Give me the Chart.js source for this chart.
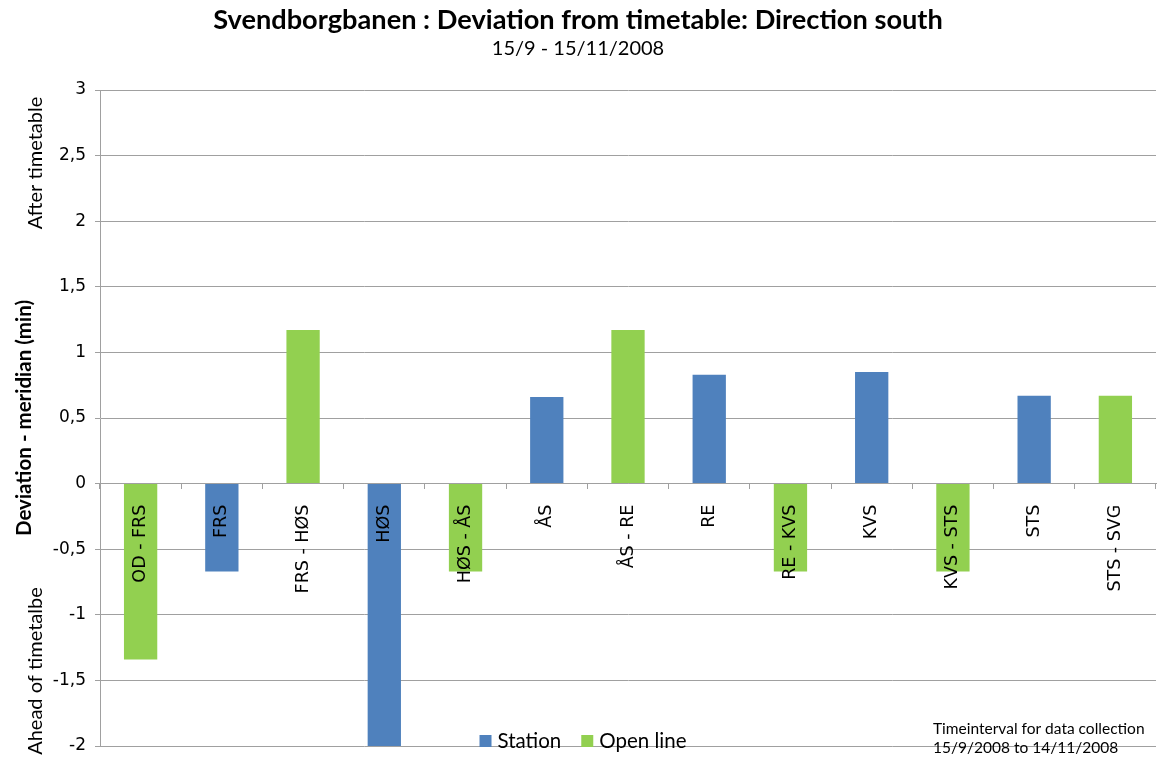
<!DOCTYPE html>
<html>
<head>
<meta charset="utf-8">
<script src="https://cdn.jsdelivr.net/npm/chart.js@4/dist/chart.umd.min.js"></script>
<style>
  html, body { margin: 0; padding: 0; background: #fff; }
  #wrap { width: 1166px; height: 763px; position: relative; }
</style>
</head>
<body>
<div id="wrap"><canvas id="c" width="1166" height="763"></canvas></div>
<script>
const categories = ["OD - FRS", "FRS", "FRS - HØS", "HØS", "HØS - ÅS", "ÅS", "ÅS - RE", "RE", "RE - KVS", "KVS", "KVS - STS", "STS", "STS - SVG"];
const stationValues = [null, -0.67, null, -2.0, null, 0.66, null, 0.83, null, 0.85, null, 0.67, null];
const openLineValues = [-1.34, null, 1.17, null, -0.67, null, 1.17, null, -0.67, null, -0.67, null, 0.67];
const seriesNames = ["Station", "Open line"];
const seriesColors = ["#4F81BD", "#92D050"];
const yMin = -2, yMax = 3, yStep = 0.5;
const titleText = "Svendborgbanen : Deviation from timetable: Direction south";
const subtitleText = "15/9 - 15/11/2008";
const yTitleMain = "Deviation - meridian (min)";
const yTitleTop = "After timetable";
const yTitleBottom = "Ahead of timetalbe";
const noteLines = ["Timeinterval for data collection", "15/9/2008 to 14/11/2008"];

const gridColor = "#a0a0a0";

const extrasPlugin = {
  id: "extras",
  afterDraw(chart) {
    const ctx = chart.ctx;
    ctx.save();
    // side y labels
    ctx.fillStyle = "#000";
    ctx.font = "20px Lato";
    ctx.textAlign = "center";
    ctx.textBaseline = "middle";
    ctx.save(); ctx.translate(36, 163); ctx.rotate(-Math.PI / 2); ctx.fillText(yTitleTop, 0, 0); ctx.restore();
    ctx.save(); ctx.translate(36, 671); ctx.rotate(-Math.PI / 2); ctx.fillText(yTitleBottom, 0, 0); ctx.restore();

    // legend
    ctx.font = "20.5px Lato";
    ctx.textAlign = "left";
    ctx.textBaseline = "alphabetic";
    const box = 12, gap = 6, between = 20;
    const widths = seriesNames.map(n => ctx.measureText(n).width);
    const total = widths.reduce((a, w) => a + box + gap + w, 0) + between * (seriesNames.length - 1);
    let x = (chart.width - total) / 2;
    const base = 748;
    seriesNames.forEach((n, i) => {
      ctx.fillStyle = seriesColors[i];
      ctx.fillRect(x, base - 13, box, box);
      ctx.fillStyle = "#000";
      ctx.fillText(n, x + box + gap, base);
      x += box + gap + widths[i] + between;
    });

    // note
    ctx.font = "15.5px Lato";
    ctx.fillStyle = "#000";
    ctx.fillText(noteLines[0], 933, 734);
    ctx.fillText(noteLines[1], 933, 753);
    ctx.restore();
  }
};

new Chart(document.getElementById("c"), {
  type: "bar",
  data: {
    labels: categories,
    datasets: [
      { label: seriesNames[0], data: stationValues, backgroundColor: seriesColors[0], borderWidth: 0 },
      { label: seriesNames[1], data: openLineValues, backgroundColor: seriesColors[1], borderWidth: 0 }
    ]
  },
  options: {
    responsive: false,
    animation: false,
    devicePixelRatio: 1,
    layout: { padding: { left: 0, right: 10, top: 0, bottom: 17 } },
    datasets: { bar: { categoryPercentage: 1.0, barPercentage: 0.41 } },
    plugins: {
      legend: { display: false },
      tooltip: { enabled: false },
      title: {
        display: true, text: titleText, color: "#000",
        font: { family: "Lato", size: 27.2, weight: "bold" },
        padding: { top: 4, bottom: 0 }
      },
      subtitle: {
        display: true, text: subtitleText, color: "#000",
        font: { family: "Lato", size: 20 },
        padding: { top: 0, bottom: 29.4 }
      }
    },
    scales: {
      x: {
        stacked: true,
        position: { y: 0 },
        grid: { display: true, drawOnChartArea: false, drawTicks: true, tickLength: 5, color: gridColor, offset: true },
        border: { display: true, color: gridColor, width: 1 },
        ticks: {
          z: 1, color: "#000", minRotation: 90, maxRotation: 90, autoSkip: false, padding: 16,
          font: { family: "DejaVu Sans", size: 17.5 }
        }
      },
      y: {
        stacked: true,
        min: yMin, max: yMax,
        afterFit(scale) { scale.width = 100; scale.paddingTop = 0; scale.paddingBottom = 0; },
        grid: { color: gridColor, tickLength: 5, drawTicks: true },
        border: { display: true, color: gridColor },
        ticks: {
          stepSize: yStep, color: "#000", padding: 9,
          font: { family: "DejaVu Sans", size: 17 },
          callback: (v) => String(v).replace(".", ",")
        },
        title: {
          display: true, text: yTitleMain, color: "#000",
          font: { family: "Lato", size: 20.5, weight: "bold" },
          padding: { top: 12, bottom: 0 }
        }
      }
    }
  },
  plugins: [extrasPlugin]
});
</script>
</body>
</html>
